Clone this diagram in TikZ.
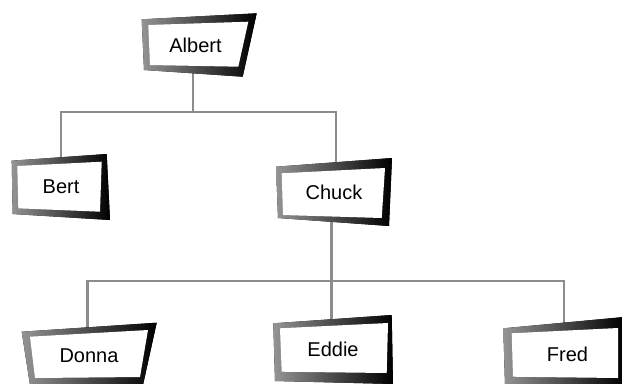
\documentclass[tikz,border=0pt]{standalone}
\usepackage{fontspec}
\setmainfont{Liberation Sans}
\begin{document}
\begin{tikzpicture}[x=1bp,y=-1bp,
  conn/.style={draw=black!45, line width=2.4bp},
  frame/.style={left color=black!42, right color=black},
  label/.style={font=\fontsize{20bp}{24bp}\selectfont, inner sep=0pt, anchor=center}]
\useasboundingbox (0,0) rectangle (622,383);

% attachment points on the box edges
\coordinate (aB) at (192.7,73);
\coordinate (bT) at (60.7,158);
\coordinate (cT) at (335.7,163);
\coordinate (cB) at (331.5,221);
\coordinate (dT) at (87.5,328);
\coordinate (eT) at (331.5,320);
\coordinate (fT) at (563.8,323.5);
\coordinate (j1) at (192.7,111.7);
\coordinate (j2) at (331.5,281);

% connectors
\draw[conn] (aB) -- (j1);
\draw[conn] (bT) |- (j1) -| (cT);
\draw[conn] (cB) -- (j2);
\draw[conn] (dT) |- (j2) -| (fT);
\draw[conn] (eT) -- (j2);

% boxes: shaded outer frame, white face
\fill[frame] (141.7,19.3) -- (256.7,13.3) -- (242.7,76.7) -- (144,70) -- cycle;
\fill[white] (148.3,25) -- (248.3,21.7) -- (238.3,66.7) -- (150,65) -- cycle;

\fill[frame] (11.7,160.7) -- (106.7,154) -- (110,220) -- (12.7,214) -- cycle;
\fill[white] (17.3,166) -- (101.7,161.7) -- (100,211.7) -- (18.3,208.3) -- cycle;

\fill[frame] (276,166.7) -- (392,158) -- (389,226) -- (278,218) -- cycle;
\fill[white] (281.7,173.3) -- (385,168) -- (381.7,218) -- (283,215) -- cycle;

\fill[frame] (21.7,331.7) -- (156.7,322.7) -- (143,385) -- (30,385) -- cycle;
\fill[white] (30,336.7) -- (148,330) -- (140,377) -- (35,378) -- cycle;

\fill[frame] (273.3,323.3) -- (391.7,315) -- (393,384) -- (275,381) -- cycle;
\fill[white] (280,328.3) -- (388,323) -- (386.7,373) -- (281.7,371.7) -- cycle;

\fill[frame] (503.3,328.3) -- (624,317) -- (624,385) -- (505,385) -- cycle;
\fill[white] (511.7,333.3) -- (618,328) -- (618,378) -- (513,376.7) -- cycle;

% names
\node[label] (albert) at (195.5,45.8) {Albert};
\node[label] (bert) at (61,186.3) {Bert};
\node[label] (chuck) at (334,192.5) {Chuck};
\node[label] (donna) at (89,355.8) {Donna};
\node[label] (eddie) at (333,349) {Eddie};
\node[label] (fred) at (567.5,354) {Fred};
\end{tikzpicture}
\end{document}
